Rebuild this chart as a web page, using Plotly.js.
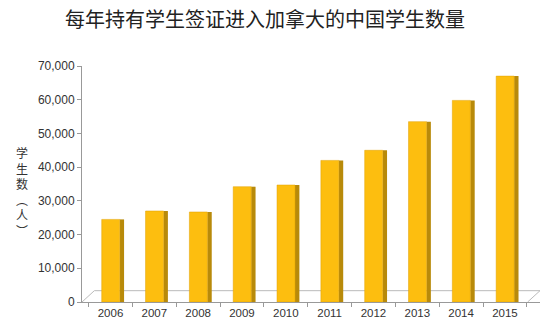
<!DOCTYPE html>
<html>
<head>
<meta charset="utf-8">
<script src="https://cdn.plot.ly/plotly-3.0.1.min.js"></script>
<style>html,body{margin:0;padding:0;background:#fff;}#chart{width:550px;height:336px;}</style>
</head>
<body>
<div id="chart"></div>
<script>
const years = ['2006','2007','2008','2009','2010','2011','2012','2013','2014','2015'];
const students = [24500, 27000, 26700, 34200, 34700, 42000, 45000, 53500, 59800, 67000];
const yTickVals = [0, 10000, 20000, 30000, 40000, 50000, 60000, 70000];

const front = {
  type: 'bar', x: years, y: students,
  width: 0.41, offset: -0.2,
  marker: {color: '#FDBE0F', line: {color: '#E0A000', width: 0.5}},
  hoverinfo: 'x+y'
};
const side = {
  type: 'bar', x: years, y: students,
  width: 0.1, offset: 0.21,
  marker: {color: '#B88A0A', line: {width: 0}},
  hoverinfo: 'skip'
};

const layout = {
  width: 550, height: 336,
  margin: {l: 82, r: 10, t: 66, b: 34},
  paper_bgcolor: '#fff', plot_bgcolor: '#fff',
  showlegend: false,
  barmode: 'overlay',
  font: {family: 'Liberation Sans, Arial, sans-serif', size: 12, color: '#333'},
  title: {
    text: '每年持有学生签证进入加拿大的中国学生数量',
    font: {family: 'Noto Sans CJK SC', size: 20, color: '#222'},
    x: 0.482, xanchor: 'center', y: 0.94, yanchor: 'middle'
  },
  xaxis: {
    type: 'category', range: [-0.65, 9.8],
    showline: true, linecolor: '#999', linewidth: 1,
    ticks: 'outside', tickson: 'boundaries', ticklen: 4, tickcolor: '#999',
    showgrid: false, zeroline: false,
    tickfont: {size: 11.5, color: '#333'}
  },
  yaxis: {
    range: [0, 70000], tickvals: yTickVals, tickformat: ',d',
    showline: true, linecolor: '#999', linewidth: 1,
    ticks: 'outside', ticklen: 4, tickcolor: '#999',
    showgrid: false, zeroline: false,
    tickfont: {size: 12, color: '#333'}
  },
  shapes: [
    {type: 'path', xref: 'paper', yref: 'paper',
     path: 'M 0 0 L 0.027 0.048 L 1 0.048 L 0.973 0',
     line: {color: '#bbb', width: 1}, fillcolor: 'rgba(0,0,0,0)', layer: 'below'}
  ],
  annotations: [
    {text: '学<br>生<br>数<br>︵<br>人<br>︶', xref: 'paper', yref: 'paper',
     x: -0.13, y: 0.47, xanchor: 'center', yanchor: 'middle', showarrow: false,
     font: {family: 'Noto Sans CJK SC', size: 12, color: '#333'}}
  ]
};

Plotly.newPlot('chart', [side, front], layout, {displayModeBar: false, staticPlot: true});
</script>
</body>
</html>
